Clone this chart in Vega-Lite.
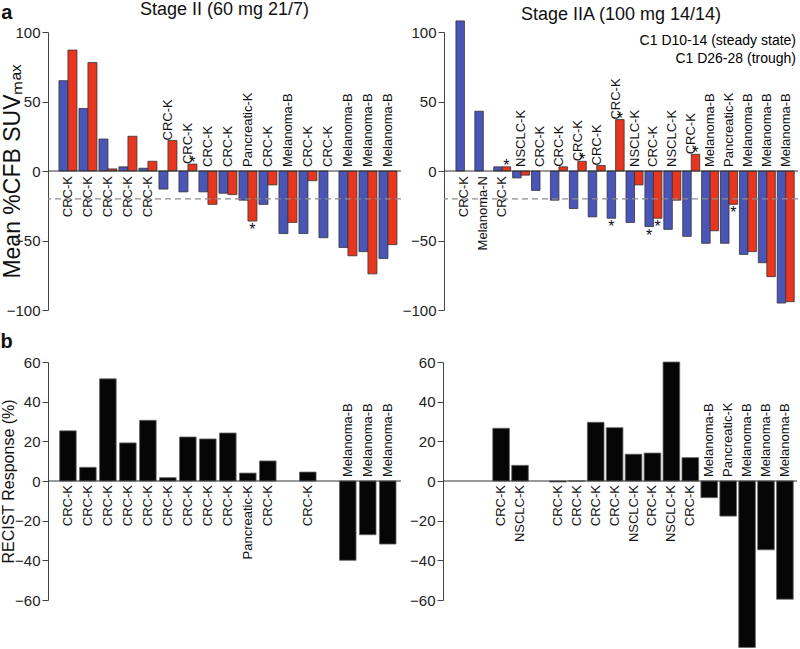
{
  "$schema": "https://vega.github.io/schema/vega-lite/v6.json",
  "padding": {"left": 0, "top": 1, "right": 2, "bottom": 0},
  "datasets": {
    "suv": [
      {"stage": "II", "pos": 1, "label": "CRC-K", "series": "C1 D10-14 (steady state)", "value": 65, "star": 0},
      {"stage": "II", "pos": 1, "label": "CRC-K", "series": "C1 D26-28 (trough)", "value": 87, "star": 0},
      {"stage": "II", "pos": 2, "label": "CRC-K", "series": "C1 D10-14 (steady state)", "value": 45, "star": 0},
      {"stage": "II", "pos": 2, "label": "CRC-K", "series": "C1 D26-28 (trough)", "value": 78, "star": 0},
      {"stage": "II", "pos": 3, "label": "CRC-K", "series": "C1 D10-14 (steady state)", "value": 23, "star": 0},
      {"stage": "II", "pos": 3, "label": "CRC-K", "series": "C1 D26-28 (trough)", "value": 1.5, "star": 0},
      {"stage": "II", "pos": 4, "label": "CRC-K", "series": "C1 D10-14 (steady state)", "value": 3, "star": 0},
      {"stage": "II", "pos": 4, "label": "CRC-K", "series": "C1 D26-28 (trough)", "value": 25, "star": 0},
      {"stage": "II", "pos": 5, "label": "CRC-K", "series": "C1 D10-14 (steady state)", "value": 2, "star": 0},
      {"stage": "II", "pos": 5, "label": "CRC-K", "series": "C1 D26-28 (trough)", "value": 7, "star": 0},
      {"stage": "II", "pos": 6, "label": "CRC-K", "series": "C1 D10-14 (steady state)", "value": -13, "star": 0},
      {"stage": "II", "pos": 6, "label": "CRC-K", "series": "C1 D26-28 (trough)", "value": 22, "star": 0},
      {"stage": "II", "pos": 7, "label": "CRC-K", "series": "C1 D10-14 (steady state)", "value": -15, "star": 0},
      {"stage": "II", "pos": 7, "label": "CRC-K", "series": "C1 D26-28 (trough)", "value": 5, "star": 1},
      {"stage": "II", "pos": 8, "label": "CRC-K", "series": "C1 D10-14 (steady state)", "value": -15, "star": 0},
      {"stage": "II", "pos": 8, "label": "CRC-K", "series": "C1 D26-28 (trough)", "value": -24, "star": 0},
      {"stage": "II", "pos": 9, "label": "CRC-K", "series": "C1 D10-14 (steady state)", "value": -16, "star": 0},
      {"stage": "II", "pos": 9, "label": "CRC-K", "series": "C1 D26-28 (trough)", "value": -17, "star": 0},
      {"stage": "II", "pos": 10, "label": "Pancreatic-K", "series": "C1 D10-14 (steady state)", "value": -21, "star": 0},
      {"stage": "II", "pos": 10, "label": "Pancreatic-K", "series": "C1 D26-28 (trough)", "value": -36, "star": 1},
      {"stage": "II", "pos": 11, "label": "CRC-K", "series": "C1 D10-14 (steady state)", "value": -24, "star": 0},
      {"stage": "II", "pos": 11, "label": "CRC-K", "series": "C1 D26-28 (trough)", "value": -10, "star": 0},
      {"stage": "II", "pos": 12, "label": "Melanoma-B", "series": "C1 D10-14 (steady state)", "value": -45, "star": 0},
      {"stage": "II", "pos": 12, "label": "Melanoma-B", "series": "C1 D26-28 (trough)", "value": -37, "star": 0},
      {"stage": "II", "pos": 13, "label": "CRC-K", "series": "C1 D10-14 (steady state)", "value": -45, "star": 0},
      {"stage": "II", "pos": 13, "label": "CRC-K", "series": "C1 D26-28 (trough)", "value": -7, "star": 0},
      {"stage": "II", "pos": 14, "label": "CRC-K", "series": "C1 D10-14 (steady state)", "value": -48, "star": 0},
      {"stage": "II", "pos": 15, "label": "Melanoma-B", "series": "C1 D10-14 (steady state)", "value": -55, "star": 0},
      {"stage": "II", "pos": 15, "label": "Melanoma-B", "series": "C1 D26-28 (trough)", "value": -61, "star": 0},
      {"stage": "II", "pos": 16, "label": "Melanoma-B", "series": "C1 D10-14 (steady state)", "value": -58, "star": 0},
      {"stage": "II", "pos": 16, "label": "Melanoma-B", "series": "C1 D26-28 (trough)", "value": -74, "star": 0},
      {"stage": "II", "pos": 17, "label": "Melanoma-B", "series": "C1 D10-14 (steady state)", "value": -63, "star": 0},
      {"stage": "II", "pos": 17, "label": "Melanoma-B", "series": "C1 D26-28 (trough)", "value": -53, "star": 0},
      {"stage": "IIA", "pos": 1, "label": "CRC-K", "series": "C1 D10-14 (steady state)", "value": 108, "star": 0},
      {"stage": "IIA", "pos": 2, "label": "Melanoma-N", "series": "C1 D10-14 (steady state)", "value": 43, "star": 0},
      {"stage": "IIA", "pos": 3, "label": "CRC-K", "series": "C1 D10-14 (steady state)", "value": 3, "star": 0},
      {"stage": "IIA", "pos": 3, "label": "CRC-K", "series": "C1 D26-28 (trough)", "value": 3, "star": 1},
      {"stage": "IIA", "pos": 4, "label": "NSCLC-K", "series": "C1 D10-14 (steady state)", "value": -5, "star": 0},
      {"stage": "IIA", "pos": 4, "label": "NSCLC-K", "series": "C1 D26-28 (trough)", "value": -3, "star": 0},
      {"stage": "IIA", "pos": 5, "label": "CRC-K", "series": "C1 D10-14 (steady state)", "value": -14, "star": 0},
      {"stage": "IIA", "pos": 6, "label": "CRC-K", "series": "C1 D10-14 (steady state)", "value": -21, "star": 0},
      {"stage": "IIA", "pos": 6, "label": "CRC-K", "series": "C1 D26-28 (trough)", "value": 3, "star": 0},
      {"stage": "IIA", "pos": 7, "label": "CRC-K", "series": "C1 D10-14 (steady state)", "value": -27, "star": 0},
      {"stage": "IIA", "pos": 7, "label": "CRC-K", "series": "C1 D26-28 (trough)", "value": 7, "star": 1},
      {"stage": "IIA", "pos": 8, "label": "CRC-K", "series": "C1 D10-14 (steady state)", "value": -33, "star": 0},
      {"stage": "IIA", "pos": 8, "label": "CRC-K", "series": "C1 D26-28 (trough)", "value": 4, "star": 0},
      {"stage": "IIA", "pos": 9, "label": "CRC-K", "series": "C1 D10-14 (steady state)", "value": -34, "star": 1},
      {"stage": "IIA", "pos": 9, "label": "CRC-K", "series": "C1 D26-28 (trough)", "value": 37, "star": 1},
      {"stage": "IIA", "pos": 10, "label": "NSCLC-K", "series": "C1 D10-14 (steady state)", "value": -37, "star": 0},
      {"stage": "IIA", "pos": 10, "label": "NSCLC-K", "series": "C1 D26-28 (trough)", "value": -10, "star": 0},
      {"stage": "IIA", "pos": 11, "label": "CRC-K", "series": "C1 D10-14 (steady state)", "value": -40, "star": 1},
      {"stage": "IIA", "pos": 11, "label": "CRC-K", "series": "C1 D26-28 (trough)", "value": -34, "star": 1},
      {"stage": "IIA", "pos": 12, "label": "NSCLC-K", "series": "C1 D10-14 (steady state)", "value": -42, "star": 0},
      {"stage": "IIA", "pos": 12, "label": "NSCLC-K", "series": "C1 D26-28 (trough)", "value": -21, "star": 0},
      {"stage": "IIA", "pos": 13, "label": "CRC-K", "series": "C1 D10-14 (steady state)", "value": -47, "star": 0},
      {"stage": "IIA", "pos": 13, "label": "CRC-K", "series": "C1 D26-28 (trough)", "value": 12, "star": 1},
      {"stage": "IIA", "pos": 14, "label": "Melanoma-B", "series": "C1 D10-14 (steady state)", "value": -52, "star": 0},
      {"stage": "IIA", "pos": 14, "label": "Melanoma-B", "series": "C1 D26-28 (trough)", "value": -43, "star": 0},
      {"stage": "IIA", "pos": 15, "label": "Pancreatic-K", "series": "C1 D10-14 (steady state)", "value": -52, "star": 0},
      {"stage": "IIA", "pos": 15, "label": "Pancreatic-K", "series": "C1 D26-28 (trough)", "value": -24, "star": 1},
      {"stage": "IIA", "pos": 16, "label": "Melanoma-B", "series": "C1 D10-14 (steady state)", "value": -60, "star": 0},
      {"stage": "IIA", "pos": 16, "label": "Melanoma-B", "series": "C1 D26-28 (trough)", "value": -58, "star": 0},
      {"stage": "IIA", "pos": 17, "label": "Melanoma-B", "series": "C1 D10-14 (steady state)", "value": -66, "star": 0},
      {"stage": "IIA", "pos": 17, "label": "Melanoma-B", "series": "C1 D26-28 (trough)", "value": -76, "star": 0},
      {"stage": "IIA", "pos": 18, "label": "Melanoma-B", "series": "C1 D10-14 (steady state)", "value": -95, "star": 0},
      {"stage": "IIA", "pos": 18, "label": "Melanoma-B", "series": "C1 D26-28 (trough)", "value": -94, "star": 0}
    ],
    "recist": [
      {"stage": "II", "pos": 1, "label": "CRC-K", "value": 25.3},
      {"stage": "II", "pos": 2, "label": "CRC-K", "value": 6.9},
      {"stage": "II", "pos": 3, "label": "CRC-K", "value": 51.5},
      {"stage": "II", "pos": 4, "label": "CRC-K", "value": 19.2},
      {"stage": "II", "pos": 5, "label": "CRC-K", "value": 30.6},
      {"stage": "II", "pos": 6, "label": "CRC-K", "value": 1.7},
      {"stage": "II", "pos": 7, "label": "CRC-K", "value": 22.2},
      {"stage": "II", "pos": 8, "label": "CRC-K", "value": 21.2},
      {"stage": "II", "pos": 9, "label": "CRC-K", "value": 24.2},
      {"stage": "II", "pos": 10, "label": "Pancreatic-K", "value": 4.0},
      {"stage": "II", "pos": 11, "label": "CRC-K", "value": 10.1},
      {"stage": "II", "pos": 13, "label": "CRC-K", "value": 4.5},
      {"stage": "II", "pos": 15, "label": "Melanoma-B", "value": -40},
      {"stage": "II", "pos": 16, "label": "Melanoma-B", "value": -27.1},
      {"stage": "II", "pos": 17, "label": "Melanoma-B", "value": -31.8},
      {"stage": "IIA", "pos": 3, "label": "CRC-K", "value": 26.6},
      {"stage": "IIA", "pos": 4, "label": "NSCLC-K", "value": 7.9},
      {"stage": "IIA", "pos": 6, "label": "CRC-K", "value": -0.5},
      {"stage": "IIA", "pos": 7, "label": "CRC-K", "value": 0},
      {"stage": "IIA", "pos": 8, "label": "CRC-K", "value": 29.6},
      {"stage": "IIA", "pos": 9, "label": "CRC-K", "value": 26.9},
      {"stage": "IIA", "pos": 10, "label": "NSCLC-K", "value": 13.5},
      {"stage": "IIA", "pos": 11, "label": "CRC-K", "value": 14.1},
      {"stage": "IIA", "pos": 12, "label": "NSCLC-K", "value": 60},
      {"stage": "IIA", "pos": 13, "label": "CRC-K", "value": 11.8},
      {"stage": "IIA", "pos": 14, "label": "Melanoma-B", "value": -8.4},
      {"stage": "IIA", "pos": 15, "label": "Pancreatic-K", "value": -17.7},
      {"stage": "IIA", "pos": 16, "label": "Melanoma-B", "value": -84},
      {"stage": "IIA", "pos": 17, "label": "Melanoma-B", "value": -34.7},
      {"stage": "IIA", "pos": 18, "label": "Melanoma-B", "value": -59.6}
    ]
  },
  "vconcat": [
    {
      "title": {"text": "a", "anchor": "start", "frame": "bounds", "fontSize": 20, "fontWeight": "bold", "offset": -22},
      "spacing": 0,
      "hconcat": [
        {
          "width": 353,
          "height": 278,
          "title": {"text": "Stage II (60 mg 21/7)", "fontSize": 18, "fontWeight": "normal", "offset": 6},
          "data": {"name": "suv"},
          "transform": [{"filter": "datum.stage == 'II'"}],
          "layer": [
            {
              "mark": {"type": "bar", "stroke": "#333", "strokeWidth": 0.8},
              "encoding": {
                "x": {"field": "pos", "type": "ordinal", "axis": null,
                      "scale": {"domain": [1,2,3,4,5,6,7,8,9,10,11,12,13,14,15,16,17], "paddingInner": 0.1, "paddingOuter": 0.375, "align": 0.73}},
                "xOffset": {"field": "series", "type": "nominal", "scale": {"domain": ["C1 D10-14 (steady state)", "C1 D26-28 (trough)"], "paddingInner": 0, "paddingOuter": 0}},
                "y": {"field": "value", "type": "quantitative", "scale": {"domain": [-100, 100], "nice": false},
                      "axis": {"values": [-100, -50, 0, 50, 100], "tickCount": 10, "title": "Mean %CFB SUVₘₐₓ", "titleFontSize": 23, "titlePadding": -18}},
                "color": {"field": "series", "type": "nominal", "legend": null,
                          "scale": {"domain": ["C1 D10-14 (steady state)", "C1 D26-28 (trough)"], "range": ["#4A55B8", "#E8351E"]}}
              }
            },
            {
              "transform": [{"aggregate": [{"op": "count", "as": "n"}]}],
              "mark": {"type": "rule", "color": "#333", "strokeWidth": 1}, "encoding": {"y": {"datum": 0}}
            },
            {
              "transform": [{"aggregate": [{"op": "count", "as": "n"}]}],
              "mark": {"type": "rule", "color": "#8c8c8c", "strokeWidth": 1.3, "strokeDash": [6, 4]}, "encoding": {"y": {"datum": -20}}
            },
            {
              "transform": [
                {"aggregate": [{"op": "max", "field": "value", "as": "vmax"}, {"op": "min", "field": "value", "as": "vmin"}, {"op": "max", "field": "star", "as": "smax"}], "groupby": ["pos", "label"]},
                {"filter": "datum.vmin >= 0"}
              ],
              "mark": {"type": "text", "angle": 270, "align": "right", "baseline": "middle", "dx": -5, "fontSize": 13},
              "encoding": {"x": {"field": "pos", "type": "ordinal"}, "y": {"datum": 0}, "text": {"field": "label"}}
            },
            {
              "transform": [
                {"aggregate": [{"op": "max", "field": "value", "as": "vmax"}, {"op": "min", "field": "value", "as": "vmin"}, {"op": "max", "field": "star", "as": "smax"}], "groupby": ["pos", "label"]},
                {"filter": "datum.vmax < 0"}
              ],
              "mark": {"type": "text", "angle": 270, "align": "left", "baseline": "middle", "dx": 4, "fontSize": 13},
              "encoding": {"x": {"field": "pos", "type": "ordinal"}, "y": {"datum": 0}, "text": {"field": "label"}}
            },
            {
              "transform": [
                {"aggregate": [{"op": "max", "field": "value", "as": "vmax"}, {"op": "min", "field": "value", "as": "vmin"}, {"op": "max", "field": "star", "as": "smax"}], "groupby": ["pos", "label"]},
                {"filter": "datum.vmax >= 0 && datum.vmin < 0"}
              ],
              "mark": {"type": "text", "angle": 270, "align": "left", "baseline": "middle", "fontSize": 13},
              "encoding": {"x": {"field": "pos", "type": "ordinal"}, "y": {"field": "vmax", "type": "quantitative"}, "text": {"field": "label"},
                           "dx": {"condition": {"test": "datum.smax == 1", "value": 10}, "value": 4}}
            },
            {
              "transform": [{"filter": "datum.star == 1 && datum.value >= 0"}],
              "mark": {"type": "text", "baseline": "alphabetic", "dy": 4, "fontSize": 16},
              "encoding": {"x": {"field": "pos", "type": "ordinal"}, "xOffset": {"field": "series", "type": "nominal"}, "y": {"field": "value", "type": "quantitative"}, "text": {"value": "*"}}
            },
            {
              "transform": [{"filter": "datum.star == 1 && datum.value < 0"}],
              "mark": {"type": "text", "baseline": "alphabetic", "dy": 14, "fontSize": 16},
              "encoding": {"x": {"field": "pos", "type": "ordinal"}, "xOffset": {"field": "series", "type": "nominal"}, "y": {"field": "value", "type": "quantitative"}, "text": {"value": "*"}}
            }
          ]
        },
        {
          "width": 354,
          "height": 278,
          "title": {"text": "Stage IIA (100 mg 14/14)", "fontSize": 18, "fontWeight": "normal", "offset": -4},
          "data": {"name": "suv"},
          "transform": [{"filter": "datum.stage == 'IIA'"}],
          "layer": [
            {
              "mark": {"type": "bar", "stroke": "#333", "strokeWidth": 0.8},
              "encoding": {
                "x": {"field": "pos", "type": "ordinal", "axis": null,
                      "scale": {"domain": [1,2,3,4,5,6,7,8,9,10,11,12,13,14,15,16,17,18], "paddingInner": 0.1, "paddingOuter": 0.415, "align": 0.76}},
                "xOffset": {"field": "series", "type": "nominal", "scale": {"domain": ["C1 D10-14 (steady state)", "C1 D26-28 (trough)"], "paddingInner": 0, "paddingOuter": 0}},
                "y": {"field": "value", "type": "quantitative", "scale": {"domain": [-100, 100], "nice": false},
                      "axis": {"values": [-100, -50, 0, 50, 100], "tickCount": 10, "title": null}},
                "color": {"field": "series", "type": "nominal",
                          "scale": {"domain": ["C1 D10-14 (steady state)", "C1 D26-28 (trough)"], "range": ["#4A55B8", "#E8351E"]},
                          "legend": {"orient": "top-right", "title": null, "offset": 2, "padding": 0, "labelFontSize": 14,
                                     "labelAlign": "right", "labelOffset": 0, "symbolSize": 0, "symbolOpacity": 0, "symbolStrokeWidth": 0,
                                     "rowPadding": 4, "labelLimit": 300,
                                     "encode": {"labels": {"update": {"fill": {"signal": "datum.value == 'C1 D10-14 (steady state)' ? '#4A55B8' : '#E8351E'"}}}}}}
              }
            },
            {
              "transform": [{"aggregate": [{"op": "count", "as": "n"}]}],
              "mark": {"type": "rule", "color": "#333", "strokeWidth": 1}, "encoding": {"y": {"datum": 0}}
            },
            {
              "transform": [{"aggregate": [{"op": "count", "as": "n"}]}],
              "mark": {"type": "rule", "color": "#8c8c8c", "strokeWidth": 1.3, "strokeDash": [6, 4]}, "encoding": {"y": {"datum": -20}}
            },
            {
              "transform": [
                {"aggregate": [{"op": "max", "field": "value", "as": "vmax"}, {"op": "min", "field": "value", "as": "vmin"}, {"op": "max", "field": "star", "as": "smax"}], "groupby": ["pos", "label"]},
                {"filter": "datum.vmin >= 0"}
              ],
              "mark": {"type": "text", "angle": 270, "align": "right", "baseline": "middle", "dx": -5, "fontSize": 13},
              "encoding": {"x": {"field": "pos", "type": "ordinal"}, "y": {"datum": 0}, "text": {"field": "label"}}
            },
            {
              "transform": [
                {"aggregate": [{"op": "max", "field": "value", "as": "vmax"}, {"op": "min", "field": "value", "as": "vmin"}, {"op": "max", "field": "star", "as": "smax"}], "groupby": ["pos", "label"]},
                {"filter": "datum.vmax < 0"}
              ],
              "mark": {"type": "text", "angle": 270, "align": "left", "baseline": "middle", "dx": 4, "fontSize": 13},
              "encoding": {"x": {"field": "pos", "type": "ordinal"}, "y": {"datum": 0}, "text": {"field": "label"}}
            },
            {
              "transform": [
                {"aggregate": [{"op": "max", "field": "value", "as": "vmax"}, {"op": "min", "field": "value", "as": "vmin"}, {"op": "max", "field": "star", "as": "smax"}], "groupby": ["pos", "label"]},
                {"filter": "datum.vmax >= 0 && datum.vmin < 0"}
              ],
              "mark": {"type": "text", "angle": 270, "align": "left", "baseline": "middle", "fontSize": 13},
              "encoding": {"x": {"field": "pos", "type": "ordinal"}, "y": {"field": "vmax", "type": "quantitative"}, "text": {"field": "label"},
                           "dx": {"condition": {"test": "datum.smax == 1", "value": 10}, "value": 4}}
            },
            {
              "transform": [{"filter": "datum.star == 1 && datum.value >= 0"}],
              "mark": {"type": "text", "baseline": "alphabetic", "dy": 4, "fontSize": 16},
              "encoding": {"x": {"field": "pos", "type": "ordinal"}, "xOffset": {"field": "series", "type": "nominal"}, "y": {"field": "value", "type": "quantitative"}, "text": {"value": "*"}}
            },
            {
              "transform": [{"filter": "datum.star == 1 && datum.value < 0"}],
              "mark": {"type": "text", "baseline": "alphabetic", "dy": 14, "fontSize": 16},
              "encoding": {"x": {"field": "pos", "type": "ordinal"}, "xOffset": {"field": "series", "type": "nominal"}, "y": {"field": "value", "type": "quantitative"}, "text": {"value": "*"}}
            }
          ]
        }
      ],
      "resolve": {"scale": {"x": "independent", "y": "independent", "xOffset": "independent", "color": "independent"}, "legend": {"color": "independent"}}
    },
    {
      "title": {"text": "b", "anchor": "start", "frame": "bounds", "fontSize": 20, "fontWeight": "bold", "offset": 3},
      "spacing": 7,
      "hconcat": [
        {
          "width": 353,
          "height": 238,
          "data": {"name": "recist"},
          "transform": [{"filter": "datum.stage == 'II'"}],
          "layer": [
            {
              "mark": {"type": "bar", "color": "#060606", "stroke": "#666", "strokeWidth": 0.8},
              "encoding": {
                "x": {"field": "pos", "type": "ordinal", "axis": null,
                      "scale": {"domain": [1,2,3,4,5,6,7,8,9,10,11,12,13,14,15,16,17], "paddingInner": 0.17, "paddingOuter": 0.415, "align": 0.7}},
                "y": {"field": "value", "type": "quantitative", "scale": {"domain": [-60, 60], "nice": false},
                      "axis": {"values": [-60, -40, -20, 0, 20, 40, 60], "tickCount": 12, "title": "RECIST Response (%)", "titleFontSize": 16, "titlePadding": -2}}
              }
            },
            {
              "transform": [{"aggregate": [{"op": "count", "as": "n"}]}],
              "mark": {"type": "rule", "color": "#333", "strokeWidth": 1}, "encoding": {"y": {"datum": 0}}
            },
            {
              "transform": [{"filter": "datum.value > -2"}],
              "mark": {"type": "text", "angle": 270, "align": "right", "baseline": "middle", "dx": -4, "fontSize": 13},
              "encoding": {"x": {"field": "pos", "type": "ordinal"}, "y": {"datum": 0}, "text": {"field": "label"}}
            },
            {
              "transform": [{"filter": "datum.value <= -2"}],
              "mark": {"type": "text", "angle": 270, "align": "left", "baseline": "middle", "dx": 4, "fontSize": 13},
              "encoding": {"x": {"field": "pos", "type": "ordinal"}, "y": {"datum": 0}, "text": {"field": "label"}}
            }
          ]
        },
        {
          "width": 354,
          "height": 238,
          "data": {"name": "recist"},
          "transform": [{"filter": "datum.stage == 'IIA'"}],
          "layer": [
            {
              "mark": {"type": "bar", "color": "#060606", "stroke": "#666", "strokeWidth": 0.8},
              "encoding": {
                "x": {"field": "pos", "type": "ordinal", "axis": null,
                      "scale": {"domain": [1,2,3,4,5,6,7,8,9,10,11,12,13,14,15,16,17,18], "paddingInner": 0.12, "paddingOuter": 0.415, "align": 0.76}},
                "y": {"field": "value", "type": "quantitative", "scale": {"domain": [-60, 60], "nice": false},
                      "axis": {"values": [-60, -40, -20, 0, 20, 40, 60], "tickCount": 12, "title": null}}
              }
            },
            {
              "transform": [{"aggregate": [{"op": "count", "as": "n"}]}],
              "mark": {"type": "rule", "color": "#333", "strokeWidth": 1}, "encoding": {"y": {"datum": 0}}
            },
            {
              "transform": [{"filter": "datum.value > -2"}],
              "mark": {"type": "text", "angle": 270, "align": "right", "baseline": "middle", "dx": -4, "fontSize": 13},
              "encoding": {"x": {"field": "pos", "type": "ordinal"}, "y": {"datum": 0}, "text": {"field": "label"}}
            },
            {
              "transform": [{"filter": "datum.value <= -2"}],
              "mark": {"type": "text", "angle": 270, "align": "left", "baseline": "middle", "dx": 4, "fontSize": 13},
              "encoding": {"x": {"field": "pos", "type": "ordinal"}, "y": {"datum": 0}, "text": {"field": "label"}}
            }
          ]
        }
      ],
      "resolve": {"scale": {"x": "independent", "y": "independent"}}
    }
  ],
  "spacing": 14,
  "resolve": {"scale": {"x": "independent", "y": "independent", "color": "independent", "xOffset": "independent"}, "legend": {"color": "independent"}},
  "config": {
    "font": "Arial",
    "view": {"stroke": null},
    "title": {"color": "#111"},
    "text": {"color": "#111", "font": "Arial"},
    "axis": {
      "domainColor": "#444", "tickColor": "#444", "tickSize": 6, "labelFontSize": 15, "labelColor": "#222",
      "labelPadding": 2, "grid": false, "titleFontWeight": "normal", "titleColor": "#111", "labelOverlap": false
    }
  }
}
